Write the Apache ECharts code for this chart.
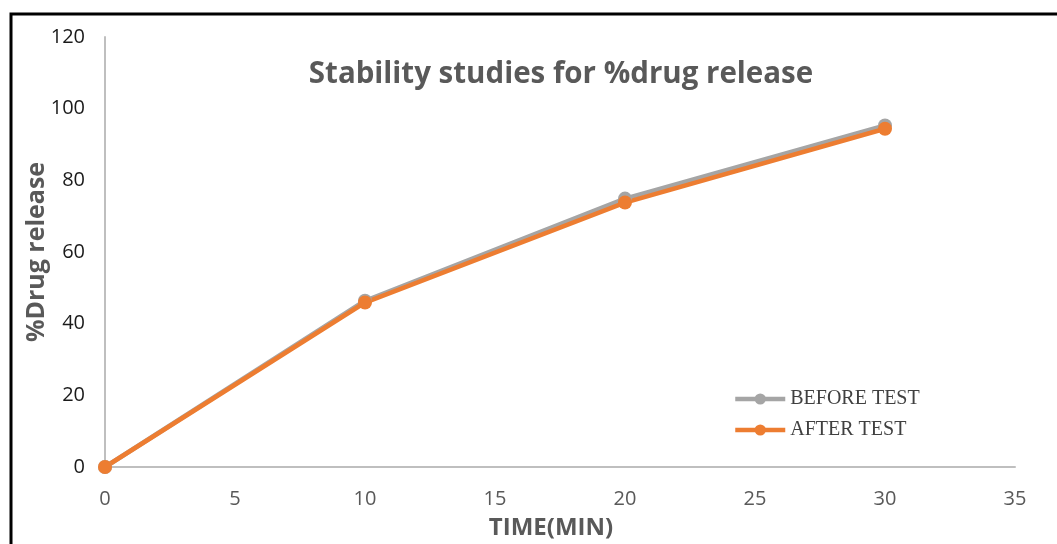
<!DOCTYPE html>
<html>
<head>
<meta charset="utf-8">
<script src="https://cdn.jsdelivr.net/npm/echarts@6/dist/echarts.min.js"></script>
<style>
  html, body { margin: 0; padding: 0; background: #fff; overflow: hidden; }
  #chart { width: 1057px; height: 544px; }
</style>
</head>
<body>
<div id="chart"></div>
<script>
// Time points (minutes) and cumulative % drug release
const timeMin = [0, 10, 20, 30];
const beforeTest = [0, 46.4, 74.9, 95.3];
const afterTest = [0, 45.9, 73.8, 94.4];
const seriesNames = ['BEFORE TEST', 'AFTER TEST'];

const chart = echarts.init(document.getElementById('chart'), null, { renderer: 'canvas' });

const toPairs = (xs, ys) => xs.map((x, i) => [x, ys[i]]);

const option = {
  backgroundColor: '#ffffff',
  animation: false,
  title: {
    text: 'Stability studies for %drug release',
    left: 556,
    top: 55,
    textAlign: 'center',
    textStyle: {
      fontFamily: 'Open Sans',
      fontWeight: 'bold',
      fontSize: 29.5,
      color: '#595959'
    }
  },
  legend: {
    orient: 'vertical',
    left: 728,
    top: 384,
    itemWidth: 50,
    itemHeight: 14,
    itemGap: 11,
    lineStyle: { width: 4.5 },
    textStyle: {
      fontFamily: 'Liberation Serif',
      fontSize: 20,
      color: '#404040'
    },
    data: seriesNames
  },
  grid: {
    left: 105,
    top: 37,
    width: 910,
    height: 430,
    outerBoundsMode: 'none',
    containLabel: false
  },
  xAxis: {
    type: 'value',
    min: 0,
    max: 35,
    interval: 5,
    name: 'TIME(MIN)',
    nameLocation: 'middle',
    nameGap: 49,
    nameMoveOverlap: false,
    nameTextStyle: {
      fontFamily: 'Open Sans',
      fontWeight: 'bold',
      fontSize: 24,
      color: '#595959',
      padding: [0, 18, 0, 0]
    },
    axisLine: { show: true, lineStyle: { color: '#bfbfbf', width: 2 } },
    axisTick: { show: false },
    splitLine: { show: false },
    axisLabel: {
      margin: 22,
      fontFamily: 'Open Sans',
      fontSize: 20,
      color: '#595959'
    }
  },
  yAxis: {
    type: 'value',
    min: 0,
    max: 120,
    interval: 20,
    name: '%Drug release',
    nameLocation: 'middle',
    nameGap: 56,
    nameMoveOverlap: false,
    nameTextStyle: {
      fontFamily: 'Open Sans',
      fontWeight: 'bold',
      fontSize: 25,
      color: '#595959'
    },
    axisLine: { show: true, lineStyle: { color: '#bfbfbf', width: 2 } },
    axisTick: { show: false },
    splitLine: { show: false },
    axisLabel: {
      margin: 20,
      fontFamily: 'Open Sans',
      fontSize: 20,
      color: '#1a1a1a'
    }
  },
  series: [
    {
      name: seriesNames[0],
      type: 'line',
      data: toPairs(timeMin, beforeTest),
      symbol: 'circle',
      symbolSize: 14,
      itemStyle: { color: '#a5a5a5' },
      lineStyle: { color: '#a5a5a5', width: 4.5 }
    },
    {
      name: seriesNames[1],
      type: 'line',
      data: toPairs(timeMin, afterTest),
      symbol: 'circle',
      symbolSize: 14,
      itemStyle: { color: '#ed7d31' },
      lineStyle: { color: '#ed7d31', width: 4.5 }
    }
  ],
  graphic: [
    {
      type: 'polyline',
      shape: { points: [[11, 544], [11, 14], [1057, 14]] },
      style: { stroke: '#000000', lineWidth: 3, fill: null }
    }
  ]
};

chart.setOption(option);
</script>
</body>
</html>
